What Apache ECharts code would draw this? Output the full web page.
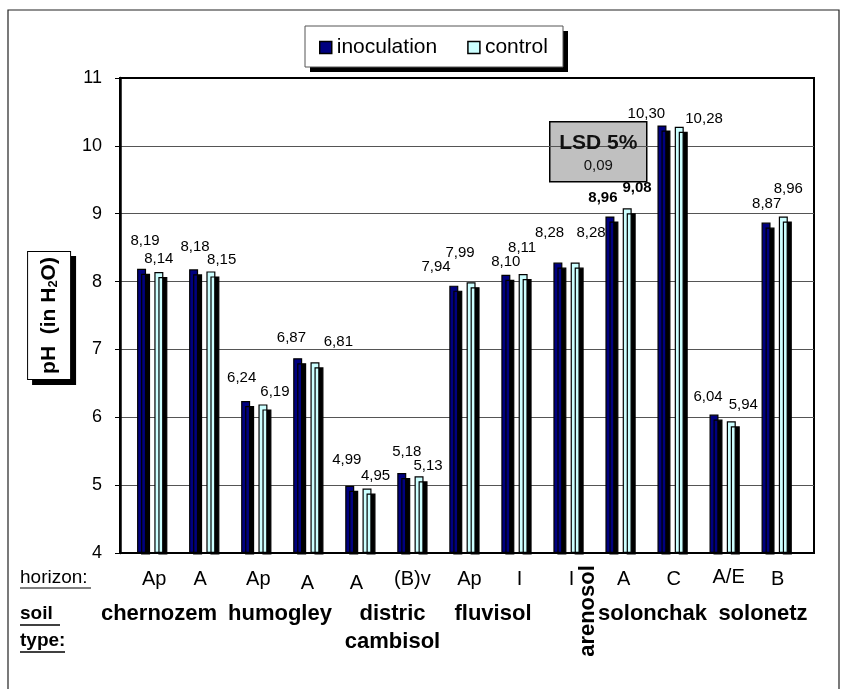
<!DOCTYPE html>
<html><head><meta charset="utf-8">
<script src="https://cdn.jsdelivr.net/npm/echarts@6/dist/echarts.min.js"></script>
<style>html,body{margin:0;padding:0;background:#fff}#c{width:843px;height:689px}</style>
</head><body><div id="c"></div>
<script>
// ---- data ----
const categories = ['Ap','A','Ap','A','A','(B)v','Ap','I','I','A','C','A/E','B'];
const inoculation = [8.19,8.18,6.24,6.87,4.99,5.18,7.94,8.10,8.28,8.96,10.30,6.04,8.87];
const control     = [8.14,8.15,6.19,6.81,4.95,5.13,7.99,8.11,8.28,9.08,10.28,5.94,8.96];
const seriesNames = ['inoculation','control'];
const yMin = 4, yMax = 11, yStep = 1;
const lsdTitle = 'LSD 5%';
const lsdValue = '0,09';
const boldIndex = 9;

// ---- styling (label nudges, not data) ----
const F = "'Liberation Sans', Arial, sans-serif";
const inocLabelOffset = [[3.5,-28],[1.5,-22.6],[-4,-23],[-6.3,-20.2],[-3,-26.1],[5,-21.5],[-17.8,-19.2],[0,-13.4],[-8.4,-29.6],[-7,-18.4],[-15.6,-11.8],[-6,-18.2],[0.6,-18.8]];
const ctrlLabelOffset = [[0,-13.4],[10.8,-11.7],[12,-12.4],[23.4,-20.9],[8.5,-13.1],[9,-10.6],[-11,-29.2],[-1,-26.1],[15.9,-29.6],[9.8,-20.3],[24.8,-7.8],[12,-16.7],[5,-27.7]];
const horizonShiftX = [4,-2,4,1,-2,2,7,5,5,5,3,6,3];
const horizonShiftY = [2,2,2,6,6,2,2,2,2,2,2,0,2];

const fmt = v => v.toFixed(2).replace('.', ',');

const chart = echarts.init(document.getElementById('c'), null, {renderer:'canvas'});

function barData(vals, offs) {
  return vals.map((v, i) => ({
    value: v,
    label: { offset: offs[i], fontWeight: i === boldIndex ? 'bold' : 'normal' }
  }));
}

const catData = categories.map((c, i) => {
  const s = horizonShiftX[i], d = horizonShiftY[i];
  return { value: c, textStyle: { padding: [d, Math.max(-2*s,0), 0, Math.max(2*s,0)] } };
});

const barCommon = {
  type: 'bar', xAxisIndex: 1, yAxisIndex: 1,
  barWidth: 9, barGap: '92%',
  label: {
    show: true, position: 'top', distance: 0, align: 'center', verticalAlign: 'middle',
    fontSize: 15, color: '#000', fontFamily: F,
    formatter: p => fmt(p.value)
  }
};

const txt = (x, y, text, font, extra) => ({
  type: 'text', x: x, y: y, z: 20,
  style: Object.assign({ text: text, font: font, fill: '#000', align: 'center', verticalAlign: 'middle', textAlign: 'center', textVerticalAlign: 'middle' }, extra || {})
});

const option = {
  animation: false,
  backgroundColor: '#fff',
  legend: {
    data: seriesNames, left: 319, top: 37, orient: 'horizontal', z: 10,
    icon: 'rect', itemWidth: 12, itemHeight: 12, itemGap: 30,
    padding: 0,
    textStyle: { fontSize: 21, color: '#000', fontFamily: F },
    itemStyle: { borderColor: '#000', borderWidth: 1.5, shadowColor: 'rgba(0,0,0,0)', shadowOffsetX: 0, shadowOffsetY: 0 }
  },
  grid: [
    { left: 120, top: 78, width: 694, height: 475, show: true, borderColor: '#000', borderWidth: 2, backgroundColor: 'transparent' },
    { left: 124.2, top: 78, width: 676.5, height: 475 }
  ],
  xAxis: [
    { gridIndex: 0, type: 'value', min: 0, max: 1, show: false },
    { gridIndex: 1, type: 'category', data: catData,
      axisLine: { show: false }, axisTick: { show: false },
      axisLabel: { interval: 0, fontSize: 20, color: '#000', fontFamily: F, margin: 14 } }
  ],
  yAxis: [
    { gridIndex: 0, type: 'value', min: yMin, max: yMax, interval: yStep,
      axisLine: { show: true, lineStyle: { color: '#000', width: 2.5 } },
      axisTick: { show: true, length: 5, lineStyle: { color: '#000', width: 1 } },
      axisLabel: { fontSize: 18, color: '#000', fontFamily: F, margin: 18 },
      splitLine: { show: true, showMinLine: false, showMaxLine: false, lineStyle: { color: '#555', width: 1 } },
      name: 'pH  (in H{sub|2}O)', nameLocation: 'middle', nameRotate: 90, nameGap: 49,
      nameTextStyle: {
        fontSize: 21, fontWeight: 'bold', color: '#000', fontFamily: F, lineHeight: 22,
        backgroundColor: '#fff', borderColor: '#000', borderWidth: 1, padding: [10, 5, 10, 5],
        shadowColor: '#000', shadowOffsetX: 5, shadowOffsetY: 5, shadowBlur: 0,
        rich: { sub: { fontSize: 13, fontWeight: 'bold', fontFamily: F, color: '#000', padding: [9, 0, 0, 0] } }
      }
    },
    { gridIndex: 1, type: 'value', min: yMin, max: yMax, interval: yStep, startValue: yMin, show: false }
  ],
  series: [
    Object.assign({}, barCommon, {
      name: seriesNames[0], data: barData(inoculation, inocLabelOffset),
      itemStyle: { color: '#000080', borderColor: '#000', borderWidth: 1.2, shadowColor: '#000', shadowOffsetX: 4, shadowOffsetY: 5, shadowBlur: 0 }
    }),
    Object.assign({}, barCommon, {
      name: seriesNames[1], data: barData(control, ctrlLabelOffset),
      itemStyle: { color: '#ccffff', borderColor: '#000', borderWidth: 1.2, shadowColor: '#000', shadowOffsetX: 4, shadowOffsetY: 5, shadowBlur: 0 }
    })
  ],
  graphic: [
    { type: 'rect', z: -10, silent: true, shape: { x: 8, y: 10, width: 831, height: 700 }, style: { fill: 'none', stroke: '#222', lineWidth: 1.2 } },
    { type: 'rect', z: 1, silent: true, shape: { x: 310, y: 31, width: 258, height: 41 }, style: { fill: '#000' } },
    { type: 'rect', z: 2, silent: true, shape: { x: 305, y: 26, width: 258, height: 41 }, style: { fill: '#fff', stroke: '#555', lineWidth: 1 } },
    { type: 'rect', z: 15, silent: true, shape: { x: 121, y: 554.5, width: 692, height: 8 }, style: { fill: '#fff' } },
    { type: 'group', left: 549, top: 121, z: 20, children: [
      { type: 'rect', shape: { x: 0, y: 0, width: 97, height: 60 }, style: { fill: '#c0c0c0', stroke: '#000', lineWidth: 1.5 } },
      txt(48.5, 21, lsdTitle, 'bold 21px ' + F, { fill: '#111' }),
      txt(48.5, 44, lsdValue, '15px ' + F, { fill: '#111' })
    ]},
    txt(20, 578, 'horizon:', '19px ' + F, { align: 'left', textAlign: 'left' }),
    { type: 'line', z: 20, shape: { x1: 20, y1: 588, x2: 91, y2: 588 }, style: { stroke: '#000', lineWidth: 1 } },
    txt(20, 614, 'soil', 'bold 19px ' + F, { align: 'left', textAlign: 'left' }),
    { type: 'line', z: 20, shape: { x1: 20, y1: 625, x2: 60, y2: 625 }, style: { stroke: '#000', lineWidth: 1.5 } },
    txt(20, 641, 'type:', 'bold 19px ' + F, { align: 'left', textAlign: 'left' }),
    { type: 'line', z: 20, shape: { x1: 20, y1: 652, x2: 65, y2: 652 }, style: { stroke: '#000', lineWidth: 1.5 } },
    txt(159, 614, 'chernozem', 'bold 22px ' + F),
    txt(280, 614, 'humogley', 'bold 22px ' + F),
    txt(392.5, 614, 'distric', 'bold 22px ' + F),
    txt(392.5, 642, 'cambisol', 'bold 22px ' + F),
    txt(493, 614, 'fluvisol', 'bold 22px ' + F),
    { type: 'text', x: 587.5, y: 611, rotation: Math.PI / 2, z: 20,
      style: { text: 'arenosol', font: 'bold 22px ' + F, fill: '#000', align: 'center', verticalAlign: 'middle', textAlign: 'center', textVerticalAlign: 'middle' } },
    txt(652.5, 614, 'solonchak', 'bold 22px ' + F),
    txt(763, 614, 'solonetz', 'bold 22px ' + F)
  ]
};
chart.setOption(option);
</script>
</body></html>
